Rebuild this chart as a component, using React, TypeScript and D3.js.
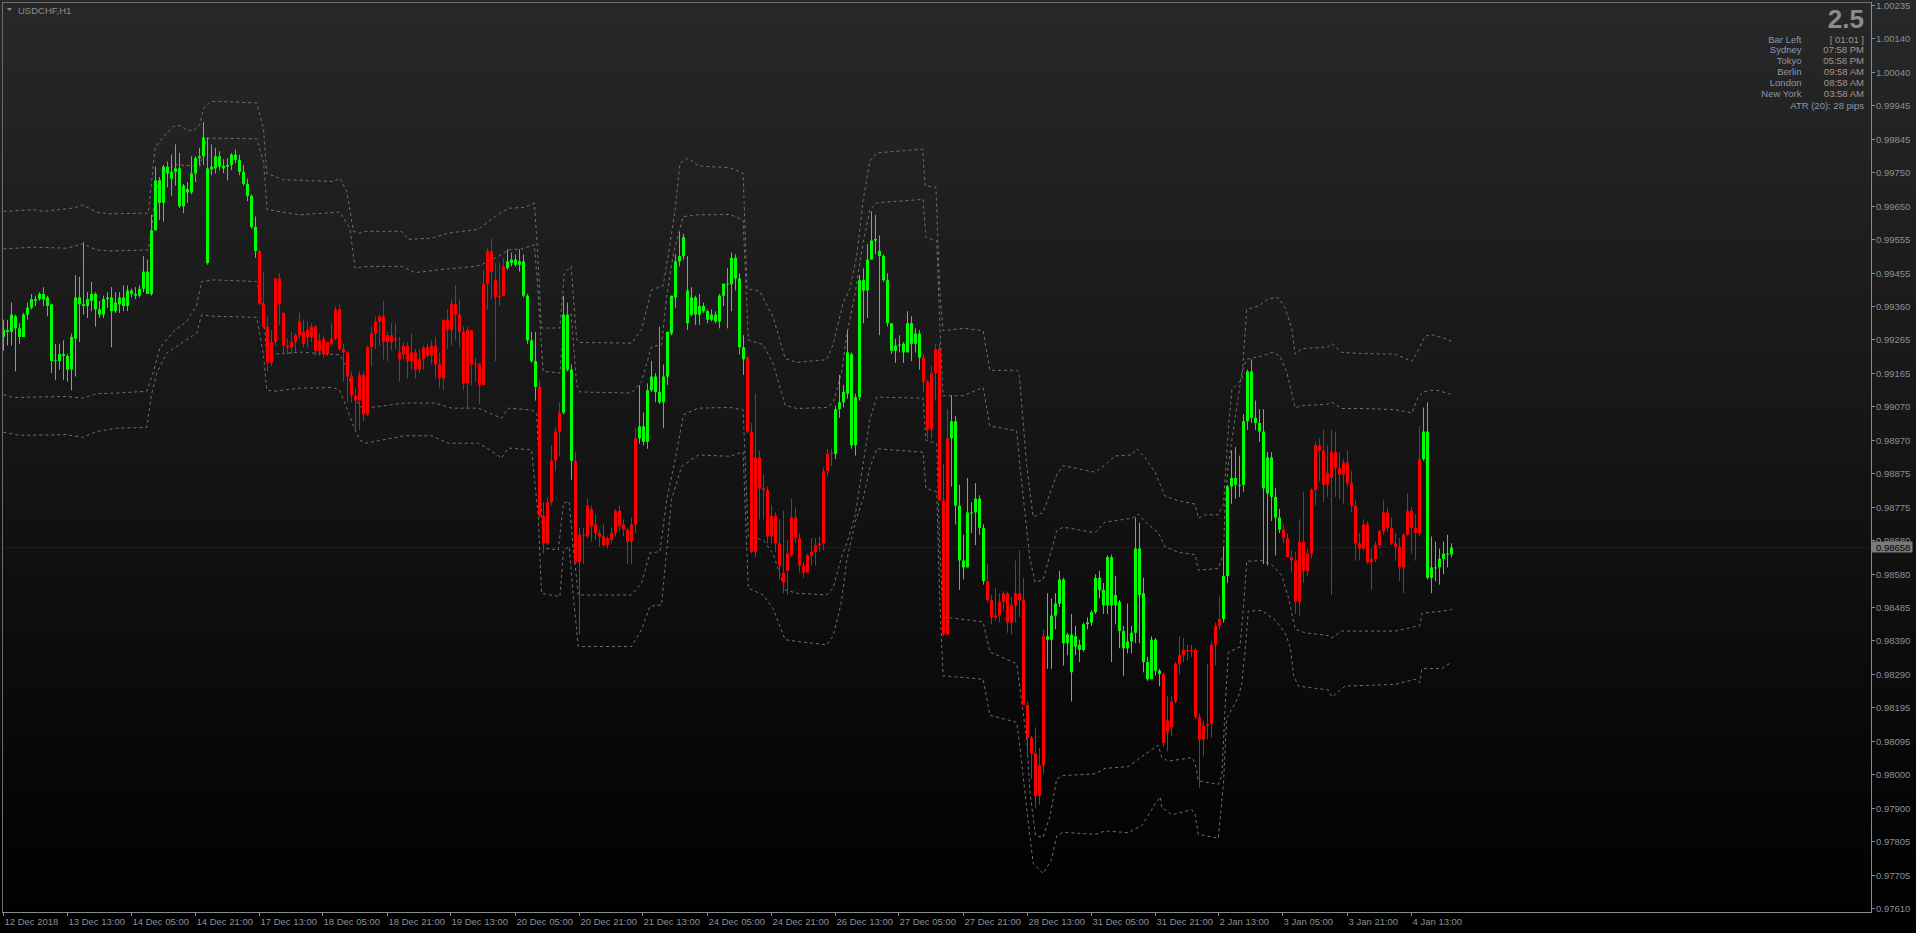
import React from 'react';
import * as d3 from 'd3';

const W = 1916;
const H = 933;
const BASE = 0.97;
const PIP = 0.0001;

// OHLC in pips above 0.97000
const opens = [
227,229,228.5,233,229.5,227,233.5,235.5,237.5,238,
239.5,238.5,236.5,220,220,222,221.5,217.5,226.5,238.5,
236.5,236,237.5,239.5,235,233.5,238,238.5,234.5,236.5,
238.5,236,240.5,239.5,239,241,246,239.5,258,272.5,
266,276.5,273,275,276,265,270,269,274.5,279,
279.5,276,275.7,276,279.5,276,276.5,277,280,278.5,
275,271.5,268,259,252,236.5,230,219.5,225.5,244,
234,224.5,224,225.5,227.5,228.5,227,227,230,223,
226.5,222,225,226.5,235,223.5,222.5,215.5,210,208.5,
216,204.5,224,228,231.5,233,225.5,227.5,226,222.5,
222,224.5,220,222.5,217.5,220.5,224,221.5,224.5,219,
215,232,229,236.5,233.5,228.5,213.5,229,219,219,
213,242.5,252,243.5,238.5,239,247,248.5,249.5,248,
249,239,226,220,212.5,175,167,179,191,199.5,
205,233.5,217.5,191,161.5,169.5,169,177,172.5,170,
169,166.5,168,170,176.5,172.5,171,167.5,172.5,197.5,
201,196.5,211.5,215.5,211,208,215.5,228,238.5,249,
250.5,240.5,233.5,238.5,233.5,236,234.5,232,233.5,231.5,
239,242.5,242.3,250,244,224,221,199.5,164.5,192,
183,182.5,169,175,167,158.5,159,163.5,174.5,168.5,
160.5,158.5,163.5,164.5,166.5,167,188,193,193,206,
208,210.5,222,195.5,209.5,243.5,240.5,249.5,255,252,
250.5,243.5,231,223,224.5,225,222.5,231,225,228,
221,214,200,216.5,223.5,179.5,140.5,197.5,202.5,178,
162,160,176,176,180,171.5,156,150.5,145.5,146,
150,152.5,144,149,152.5,150.5,120,110.5,106,93.5,
102.5,140,139,146,149.5,156.5,138,140.5,137,137.5,
136,143.5,144,147,157,153.5,149,163,149,150,
141.5,136.5,138.5,141,165.5,152.5,132.5,127.5,139,130,
129,112,113.5,121,132,134.5,136,135.7,136,116.5,
110,114,114.5,137.5,143,145,157.5,183.5,186,184,
184,202.5,217,203.5,202,199.5,181.5,192,180.5,174.5,
171,168.5,163,162,150,167.5,159,164,182.5,195.5,
194,184,186,193.5,189,187,190.5,184.5,178,167,
165.5,172.5,161.5,162.5,166.5,170.5,176,171.5,167,166,
160,169.5,176.5,171.5,170,191.5,199.5,157,160,160,
162.5,164,163.8
];

const highs = [
232,232,237,233.5,231,234,237,239.5,239,240,
241.5,239,236.5,225,225,226,222,228,245,244.5,
254.5,240,243,240,237.5,239,240,241.5,240,240,
242,242,241,241.5,242,250.5,249.5,262.5,276.5,273.5,
277,278,280,283,280.5,271.5,272,279.5,279.5,282,
289.5,285,283,282,281,278.7,279,280.5,281.5,280,
277,273,268.5,262,252.5,246,233,229,244,245.5,
234,226.5,228.5,228,234,232,231.5,231,230.5,228,
227.5,225.5,231,236,236.5,225,222.8,217,212,217,
217,224.5,230,233,233.5,237.5,228.5,231,231,227,
225.5,225.5,228,223.5,223.5,224.5,225,226,227,222.5,
232,235,238,242,238,230,230,229,221,219.5,
246.5,253,255.5,248.5,248.5,250,252.5,251.5,251,252.5,
251,239.5,228.5,228.5,214.5,179,180.5,195.5,201,208,
239,237,219,193.5,171.5,171.5,180,178,175.5,171,
172.5,169,171.5,177,178,174,171.5,174.5,200.5,213,
205,213.5,220,216.5,230,219,228.5,239,251,257.5,
257,250.5,241.5,239,239.5,237,235,235,234.5,239.5,
242.5,247,251.5,251,245.5,227.5,221.5,202,210.5,194,
187,183.5,178,176,174,176.5,168,180,177.5,170,
161.5,164,168.5,168.5,169,189,194.5,194.5,207,216,
213,229,222.5,210.5,245,247,254,263.5,262.5,256.5,
251,245.5,231,226.5,227.5,225.5,234.5,233,229.5,229,
222,214.5,218.5,225,225,190,206,210,204,184,
169.5,186,179,184.5,181,172.5,161,152,154,152.5,
153,153,151.5,162,165,157,121,111,113.5,107.5,
142,152.5,151,152.5,159,157,141,146.5,143,139,
144,145.5,147.5,158,159,155.5,163.5,163.7,157.5,150.5,
143,149.5,143,174.5,173,157,134,140,139.5,130.5,
129.5,122.5,122.5,132.5,140,139.5,137.5,137.5,136.5,117.5,
115.5,132,138.5,144,151.5,166,184,194,195,192.5,
204.5,217.5,220.5,208.5,206,206,193.5,193.5,183,177,
172.5,170,165,164.5,174,182,165.5,183,196.5,197.5,
200,195.5,200,199.5,193.5,191.5,194,188,179.5,170,
174,173.5,165.5,167.5,171,179.5,177.5,174.5,170,168.5,
170,181.5,177.5,175.5,201,206.5,208,169,167.5,165.5,
167.5,169.5,167
];

const lows = [
223,224.5,224.5,217,225,227,232,235,236,237.5,
236,233,216.5,214.5,217.5,214.5,214,211.5,215.5,225.5,
233.5,232.5,234.5,230,232.5,232.5,235.5,224,234,234,
234.5,234.5,238.5,238,238.5,240,239.5,239,258,261,
260.5,270.5,268,271,264.5,263,266,268.5,272,277,
277,248,274,274.5,275.5,274.6,272.5,275.5,277.5,274,
271,266.5,258.5,250,236.5,229.5,217,218.5,224.5,230.5,
222,222,222,222.5,226.5,224,224,225.5,221.5,221.5,
221,221.5,224.5,226,223,214,208,208,200,200,
202.5,204,218.5,223.5,224.5,220.5,220,223,223.5,214,
220.5,215,217.5,215,216.5,217.5,221,219,215,212,
211.5,223.5,224.5,226,224,211.5,206,213,214,207.5,
213,235,238,220,236,239,246.5,247.5,247.5,246,
238.5,225,219.5,208.5,174.5,164,166.5,178,188,192.5,
204.5,217,185.5,161,140.5,161,168.5,167.5,168,166,
166,165.5,167,169,170.5,169,161,161,170,196,
195.5,194.5,211,208,207.5,200.5,213,227.5,235.5,247.5,
249.5,229,233,230.5,230.5,234,231,231.5,231,229.5,
236,229.5,234.5,240.5,222,216,199,164,163,174,
174,167,167,164.5,156.5,152.5,152,163,167,158.5,
157,158.5,160.5,160.5,164.5,165,186.5,189.5,191.5,203.5,
206.5,209,194.5,192.5,208.5,231,232.5,249.5,251,227.5,
243,230,222,219.5,222.5,219.5,222.5,220,222.5,217.5,
211,197.5,197.5,208.5,179.5,140,140.5,183.5,172.5,153.5,
156.5,160,170,166.5,169.5,155,150,143.5,144.5,144,
147.5,141,140.5,144,145.5,120,105.5,98.5,90,91,
100,130.5,130.5,142,148.5,131.5,134.5,121,134.5,132.5,
135.5,142,143,146.5,151,146.5,146.5,132.5,143.5,136.5,
128.5,135,135,138,138,129.5,127,127.5,128.5,125.5,
108,106.5,111,120.5,129,132.5,133,134,116,96,
105,110,110.5,131.5,142,144,155.5,178.5,180,180.5,
182,200,202,200,196.5,161,160.5,173.5,163.5,170,
167,163,158.5,146.5,146,155.5,157.5,162.5,178,185,
179,180.5,152,180.5,180,178.5,183.5,176,162,162,
165,161,153.5,161.5,165.5,169.5,170.5,166.5,162,156,
152.5,169,164,162,169,191,156.5,152.5,156,155,
158,160,163
];

const closes = [
229,228.5,233.5,229.5,227,233.5,235.5,238,238,239.5,
238,236,220,220.2,222,221.5,217.5,227,238.5,236.5,
236,238,239.5,235,233.5,238,238.5,234.5,237,238.5,
236,240.5,239.5,239,241,246,239.5,258,272.5,266,
276.5,274.5,275,276,265,271,269,274.5,279,279.5,
285,248.5,276.5,279.5,276.5,276.7,277,280,278.5,275,
271.5,268,259,252,236.5,230,219.5,225.5,244,236.5,
224.5,224,225.5,227.5,231.5,225,229,230,223,226,
222,225.5,226.5,235,223.5,222.5,215.5,210,208.5,216,
204.5,224,228,231.5,233,225.5,227.5,225.5,226.5,220.5,
224.5,220,222.5,217.5,220.5,224,221.5,224.5,219,215,
232,229,236.5,233.5,228.5,213.5,229,219,219.2,213,
242.5,252,246,238.5,239,247.5,249,249.5,248,249,
239,226,220,212.5,175,167,179,191,199.5,205,
233.5,217.5,191,161.5,169.5,169.3,178,172,170,169,
166.5,168.5,170,176.5,172,171,167.5,172.5,197.5,201,
196.5,211.5,215.5,211,208,215.5,228.5,239,249,250.5,
256,231,238.5,233.5,236,234.5,232,233.5,231.5,239,
242.5,242.3,250,244,224,220.5,199.5,164.5,192,183,
182.5,169,175,167,160.5,155.5,164,174.5,168.5,160.5,
158.5,163.5,164.5,166.5,167,188,193,193.3,206,208,
211,222.5,195.5,209.5,243.5,240.5,249.5,255,255.5,250.5,
243.5,231,223,224.5,224.8,222.5,231,225,228,221,
214,200,216.5,223.5,179.5,140.5,197.5,202.5,178,162,
160,176,176,180,171.5,156,150.5,145.5,146,150,
152.5,144,149,152.5,150.5,120,110.5,106,93.5,102.5,
140,139,146,149.5,156.5,138,140.5,129.5,140,136,
143.5,144,147,157,153.5,149,163,149,152,141.5,
136.5,138.5,141,165.5,152,132.5,127.5,139,130,129,
109,115.5,121,132,134.5,136,135.7,136,116.5,110,
114,114.5,137.5,143,145,157.5,183.5,186,184,184,
202.5,217,203.5,202,199.5,183,192,180.5,174.5,171,
168.5,163,162,150,167.5,159,164,182.5,195.5,194,
184,187.5,193.5,189,187,190.5,184.5,178,167,165.5,
172.5,161.5,162.5,166.5,170.5,176,171.5,167,166,160,
169.5,176.5,171.5,170,191.5,199.5,157,160,159.8,162.5,
164,163.8,165.8
];

// colour regimes: [first bar, last bar, direction]
const regimes: [number, number, string][] = [
  [0, 63, 'up'], [64, 125, 'down'], [126, 133, 'up'], [134, 139, 'down'],
  [140, 142, 'up'], [143, 158, 'down'], [159, 185, 'up'], [186, 207, 'down'],
  [208, 229, 'up'], [230, 236, 'down'], [237, 245, 'up'], [246, 260, 'down'],
  [261, 289, 'up'], [290, 304, 'down'], [305, 319, 'up'], [320, 354, 'down'],
  [355, 362, 'up'],
];

// envelope bands: [bar position, pips above 0.97]
const bandOuterUpper: [number, number][] = [
[0,263.5],[7.5,264],[10,263.5],[17.5,264.5],[19.8,265.4],[23.3,263.3],[26.6,262.8],[36.2,263],[37.9,281.9],[40,285.3],[42.5,288.2],[44.1,288.5],[45.8,287.2],[47.5,286.9],[49.1,288.7],[50,293.5],[52,295.5],[57.5,295.3],[63.3,295],[65,287.7],[65.8,274.6],[70,272.7],[82.5,272.2],[84.1,273.2],[85.8,269.3],[87.5,257.7],[89.1,257.2],[90.4,257.7],
[99.5,257.7],[101.2,255.4],[107,255.7],[111.2,257.2],[118.7,258.3],[122.9,262],[126.2,264.4],[130.4,264.7],[132.7,265.9],[133.5,252.3],[134.5,229.6],[139.1,229.6],[140.2,245.5],[141.9,247.5],[143.3,226.2],[144.1,225.4],[157,225.2],[159.5,229.1],[162,240.7],[164.9,241.9],[166.4,252.3],[167.9,264],[169.1,277.5],[171.2,279],[173.7,276.7],[181.6,276.2],
[184.9,274.6],[185.9,241],[189.1,240.3],[189.9,238.3],[192.4,232.9],[195.4,220.7],[198.3,219.6],[205.8,220.4],[207.4,224.8],[209.9,236.9],[211.6,241],[213.3,250.5],[214.9,266.7],[216.6,278.2],[218.3,280.5],[226.6,281.3],[229.8,281.6],[230.4,271],[233.1,270.5],[234.1,240],[234.9,228.8],[239.9,229.5],[244.9,228.8],[246.6,217.3],[253.3,217.3],[253.9,216.6],[255.8,189.6],[257.4,174.7],[259.9,176],[263.3,186.9],[264.9,189.6],[272.9,187.7],
[275.4,189.8],[277.9,192.4],[282.1,192.7],[283.3,194.5],[285.4,191.9],[287.9,187.7],[290.4,180.7],[293.7,179.4],[297.9,178.4],[298.7,174.3],[300.4,175.3],[303.7,175.3],[305,178.4],[306.2,200.2],[307.1,211.6],[309.6,214.7],[310.8,235],[313.7,236],[316.2,238.1],[318.7,238.4],[320.4,235.5],[322.1,229.3],[322.9,222],[324.6,223.6],[331.2,224.1],[332.1,225.1],[334.6,222.5],[339.6,222.2],[347.9,222],[352.1,219.9],[353.7,223.1],[355.4,227.2],[357.1,227.7],[361.2,226.2],[362.1,225.6]
];

const bandInnerUpper: [number, number][] = [
[0,252.6],[7.5,253.1],[15.8,252.8],[19.8,254.1],[23.3,252.3],[26.6,252],[36.2,252.3],[37,257.7],[37.9,268.3],[39.1,272.7],[42.5,277.1],[49.1,276.6],[50.8,284.8],[63.3,284.6],[65,278],[65.9,264],[74.1,262.5],[84.1,263.3],[86.6,258.6],[87.9,247],[90.4,247.5],
[99.5,247.5],[102.9,245.7],[108.7,246.5],[117.9,247.5],[119.5,248],[123.7,250.4],[126.2,252.3],[129.5,252.6],[132.7,253.8],[133.5,242.6],[134.9,217],[139.1,216.5],[140.2,232],[141.9,234],[143.3,213],[144.1,211],[157,210.7],[159.5,214],[162,224.2],[164.5,224.7],[165.8,238.8],[167.5,251.4],[169.9,262],[173.7,262.5],[181.6,262.6],
[184.9,261],[186.2,226.1],[189.9,224.8],[192.4,219.3],[195.4,207.2],[198.3,206.2],[205.8,206.5],[207.4,207.8],[209.5,216.6],[210.8,227.5],[212.9,239.6],[214.9,254.5],[216.6,264],[218.3,266],[226.6,266.7],[229.9,267],[230.6,256],[233.3,255],[234.1,230],[234.9,209.9],[239.9,209.9],[244.9,212.3],[246.6,201.1],[253.3,199.7],[254.1,189.6],[256.6,162.5],[257.9,155.7],[259.9,156.4],[263.3,170.6],[264.9,171.7],[272.9,170.1],
[275.4,173.2],[282.1,174.3],[283.7,175.5],[285.4,173.2],[288.7,170.1],[290.4,166],[293.7,164.4],[297.9,163.7],[298.7,159.2],[303.7,159.7],[305,163.9],[305.4,178.4],[306.2,189.8],[307.1,197.1],[309.6,216.8],[310.8,220.5],[314.6,221.5],[317.1,222.5],[319.1,221.5],[320.8,216.8],[322.1,210.6],[322.9,206.4],[324.6,207],[331.2,207.5],[332.1,208],[334.6,206.2],[339.6,206.2],[347.9,205.9],[352.1,204.9],[353.7,209.6],[355,211.1],[357.9,211.6],[361.2,210.6],[362.1,210.1]
];

const bandInnerLower: [number, number][] = [
[0,210.2],[2.5,209.4],[15.8,209.7],[19.8,209.2],[23.3,210.5],[28.3,210.7],[35.8,211.2],[37.5,217],[39.1,223.8],[42.5,228.6],[45.8,231.5],[48.3,236.2],[49.5,243.1],[52.5,243.6],[63.3,243.1],[65,235.4],[65.8,220.9],[67.5,222],[74.1,222.6],[84.1,221.8],[85.8,218],[87.5,210.2],[89.1,206.8],[90.4,206.3],
[100.4,207.8],[107.9,207.8],[112,206.3],[118.7,206.3],[121.6,204.8],[124.5,203.4],[126.2,206.3],[132,205.8],[133.3,204.8],[134.1,184.5],[135,165.6],[138.7,165.1],[140,178.7],[141.4,179.2],[142.5,165.1],[143.7,152],[157,152],[159.5,155.4],[161.6,164.2],[164.1,164.6],[165.8,179.7],[167.9,191.3],[170,204.4],[173.7,206.3],[181.6,206.5],
[184.9,205.8],[186.2,169],[189.9,168],[192.4,164],[195.4,153.5],[198.3,152.5],[205.8,152],[207.4,154],[209.5,163],[210.8,167],[212.9,175],[214.9,190],[216.6,203],[218.3,209.5],[229.9,209.2],[230.6,197],[233.3,196],[234.1,165],[234.9,145.6],[244.9,144.2],[246.6,135.4],[253.3,132],[254.1,125],[255.8,110],[256.6,95],[258,82],[259.9,81.5],[261.7,88],[263.3,98.5],[264.9,99.5],[272.9,100],
[275.4,101.6],[281.2,102.1],[285.4,105.7],[288.7,108.3],[289.6,104.7],[291.2,103.7],[297.1,104.7],[297.9,103.1],[298.7,98],[303.7,96.9],[304.6,99.5],[305.4,119.2],[306.2,135.3],[309.1,136.9],[310,148.3],[310.8,161.8],[314.6,162],[317.1,160.8],[319.6,157.6],[321.2,151.4],[322.9,142.1],[325.4,141],[331.2,140.2],[332.1,139.5],[334.6,141.5],[347.9,141.5],[354.1,143.1],[354.6,146.7],[359.6,147.3],[362.1,147.8]
];

const bandOuterLower: [number, number][] = [
[0,199.3],[4.1,198.4],[15.8,198.6],[19.8,197.8],[23.3,199.5],[28.3,200.5],[35.8,200.7],[37,210.2],[38.3,216.5],[40.8,222.3],[45.8,226.2],[48.3,228.1],[49.5,233.4],[52.5,233],[63.3,232.7],[65,221.8],[65.8,211.6],[67.5,211.2],[74.1,212.1],[82.5,212.3],[84.1,211.4],[85.8,206.3],[87.5,201],[89.1,197],[90.4,196.1],
[100.4,198.3],[107,198.3],[111.2,196.1],[118.7,196.1],[121.6,194.2],[124.5,191.8],[126.2,194.7],[132,194.2],[133.7,174.8],[134.5,152.5],[139.1,151.5],[140,165],[141.4,166],[142.5,151],[143.7,137],[157,137],[159.5,141.9],[161.6,148.7],[164.5,149.1],[167,179.7],[169.5,189.3],[173.7,192.7],[181.6,192.3],
[184.9,193.6],[186.2,154],[189.9,152],[192.4,148],[195.4,139],[198.3,138.5],[205.8,137.5],[207.4,140],[209.5,150],[210.8,162],[212.9,173],[214.9,180],[216.6,189],[218.3,194.5],[229.9,193.5],[230.6,183],[233.3,182],[234.1,150],[234.9,128.5],[244.9,127.5],[246.6,117],[253.3,115],[254.1,108],[255.8,90],[257.4,74],[259.9,71],[262,75],[263.3,82],[264.9,83],[272.9,82.4],
[275.4,83.4],[281.2,82.9],[284.6,85],[287.9,91.2],[289.2,93.3],[289.6,90.2],[292.1,88.1],[297.1,89.6],[297.9,88.1],[298.7,82.4],[303.7,81.3],[305,97.4],[305.8,116.1],[308.7,122.3],[309.6,126.5],[310.4,135.8],[311.2,147.3],[314.6,147.5],[317.9,144.7],[320.4,141],[321.7,136.9],[322.5,128.6],[323.7,125.5],[331.2,124.4],[332.1,122.3],[335.4,125.5],[347.9,126],[352.9,127.5],[354.1,126.5],[354.6,130.6],[359.6,130.6],[362.1,132.5]
];

const priceTicks = [
  '1.00235', '1.00140', '1.00040', '0.99945', '0.99845', '0.99750', '0.99650',
  '0.99555', '0.99455', '0.99360', '0.99265', '0.99165', '0.99070', '0.98970',
  '0.98875', '0.98775', '0.98680', '0.98580', '0.98485', '0.98390', '0.98290',
  '0.98195', '0.98095', '0.98000', '0.97900', '0.97805', '0.97705', '0.97610',
];

const timeLabels = [
  '12 Dec 2018', '13 Dec 13:00', '14 Dec 05:00', '14 Dec 21:00', '17 Dec 13:00',
  '18 Dec 05:00', '18 Dec 21:00', '19 Dec 13:00', '20 Dec 05:00', '20 Dec 21:00',
  '21 Dec 13:00', '24 Dec 05:00', '24 Dec 21:00', '26 Dec 13:00', '27 Dec 05:00',
  '27 Dec 21:00', '28 Dec 13:00', '31 Dec 05:00', '31 Dec 21:00', '2 Jan 13:00',
  '3 Jan 05:00', '3 Jan 21:00', '4 Jan 13:00',
];
const barsPerTimeLabel = 16;

const infoLabels = ['Bar Left', 'Sydney', 'Tokyo', 'Berlin', 'London', 'New York'];
const infoValues = ['[ 01:01 ]', '07:58 PM', '05:58 PM', '09:58 AM', '08:58 AM', '03:58 AM'];
const atrText = 'ATR (20): 28 pips';
const spreadText = '2.5';
const symbolText = 'USDCHF,H1';
const currentPrice = '0.98658';

const FONT = "'Liberation Sans', Arial, sans-serif";
const AXIS_COLOR = '#8a9098';
const FRAME = '#6c6c6c';

const plot = { left: 2, top: 2, right: 1871, bottom: 912 };

export default function App() {
  const n = Math.min(opens.length, highs.length, lows.length, closes.length);
  const x = d3.scaleLinear().domain([0, 362]).range([3.5, 1451.5]);
  const y = d3.scaleLinear().domain([0.9761, 1.00235]).range([908, 5]);
  const px = (v: number) => BASE + v * PIP;

  const colorOf = (i: number) => {
    const r = regimes.find((g) => i >= g[0] && i <= g[1]);
    return r && r[2] === 'up' ? '#00ff00' : '#ff0000';
  };

  const line = d3
    .line<[number, number]>()
    .x((d) => x(d[0]))
    .y((d) => y(px(d[1])));

  const bands = [bandOuterUpper, bandInnerUpper, bandInnerLower, bandOuterLower];
  const cp = parseFloat(currentPrice);
  const cpY = y(cp);

  const candles = [];
  for (let i = 0; i < n; i++) {
    const c = colorOf(i);
    const xi = x(i);
    const top = y(px(Math.max(opens[i], closes[i])));
    const bot = y(px(Math.min(opens[i], closes[i])));
    candles.push(
      <g key={i}>
        <line x1={xi} x2={xi} y1={y(px(highs[i]))} y2={y(px(lows[i]))} stroke={c} strokeWidth={1} />
        <rect x={xi - 1.5} y={top} width={3} height={Math.max(1, bot - top)} fill={c} />
      </g>
    );
  }

  return (
    <div style={{ position: 'fixed', left: 0, top: 0, width: W, height: H }}>
      <svg width={W} height={H} style={{ display: 'block' }} fontFamily={FONT}>
        <defs>
          <linearGradient id="bg" x1="0" y1="0" x2="0" y2="1">
            <stop offset="0" stopColor="#282828" />
            <stop offset="1" stopColor="#000000" />
          </linearGradient>
        </defs>
        <rect x={0} y={0} width={W} height={H} fill="url(#bg)" />

        {/* current price line */}
        <line x1={plot.left} x2={plot.right} y1={Math.round(cpY) + 0.5} y2={Math.round(cpY) + 0.5} stroke="#ffffff" strokeOpacity={0.05} />

        {/* bands */}
        {bands.map((b, k) => (
          <path key={k} d={line(b) || ''} fill="none" stroke="#707070" strokeWidth={1} strokeDasharray="3 3" />
        ))}

        {candles}

        {/* frame */}
        <line x1={plot.left + 0.5} x2={plot.left + 0.5} y1={plot.top} y2={plot.bottom} stroke={FRAME} />
        <line x1={plot.left} x2={plot.right} y1={plot.top + 0.5} y2={plot.top + 0.5} stroke={FRAME} />
        <line x1={plot.right + 0.5} x2={plot.right + 0.5} y1={plot.top} y2={plot.bottom + 1} stroke="#8a8a8a" />
        <line x1={plot.left} x2={plot.right + 1} y1={plot.bottom + 0.5} y2={plot.bottom + 0.5} stroke="#8a8a8a" />

        {/* price axis */}
        {priceTicks.map((t) => {
          const ty = Math.round(y(parseFloat(t))) + 0.5;
          return (
            <g key={t}>
              <line x1={plot.right} x2={plot.right + 4} y1={ty} y2={ty} stroke="#8a8a8a" />
              <text x={plot.right + 5} y={ty + 3.5} fontSize={9.5} fill={AXIS_COLOR}>{t}</text>
            </g>
          );
        })}
        <rect x={plot.right + 0.5} y={Math.round(cpY) - 5.5} width={41} height={11} fill="#7a7a7a" />
        <text x={plot.right + 5} y={Math.round(cpY) + 4} fontSize={9.5} fill="#000000">{currentPrice}</text>

        {/* time axis */}
        {timeLabels.map((t, k) => {
          const tx = Math.round(x(k * barsPerTimeLabel)) - 0.5;
          return (
            <g key={t}>
              <line x1={tx} x2={tx} y1={plot.bottom} y2={plot.bottom + 4} stroke="#8a8a8a" />
              <text x={tx + 1} y={925} fontSize={9.5} fill={AXIS_COLOR}>{t}</text>
            </g>
          );
        })}

        {/* title */}
        <path d="M7,8 L12,8 L9.5,11 Z" fill="#8c8c8c" />
        <text x={18} y={13.5} fontSize={9.5} fill="#8c8c8c">{symbolText}</text>

        {/* info panel */}
        <text x={1864} y={27.5} fontSize={26} fontWeight="bold" textAnchor="end" fill="#8c8c8c">{spreadText}</text>
        {infoLabels.map((l, k) => (
          <g key={l}>
            <text x={1801.5} y={42.5 + k * 10.95} fontSize={9.5} textAnchor="end" fill="#8a98a8">{l}</text>
            <text x={1864} y={42.5 + k * 10.95} fontSize={9.5} textAnchor="end" fill="#a89488">{infoValues[k]}</text>
          </g>
        ))}
        <text x={1864} y={108.5} fontSize={9.5} textAnchor="end" fill="#8a98a8">{atrText}</text>
      </svg>
    </div>
  );
}
